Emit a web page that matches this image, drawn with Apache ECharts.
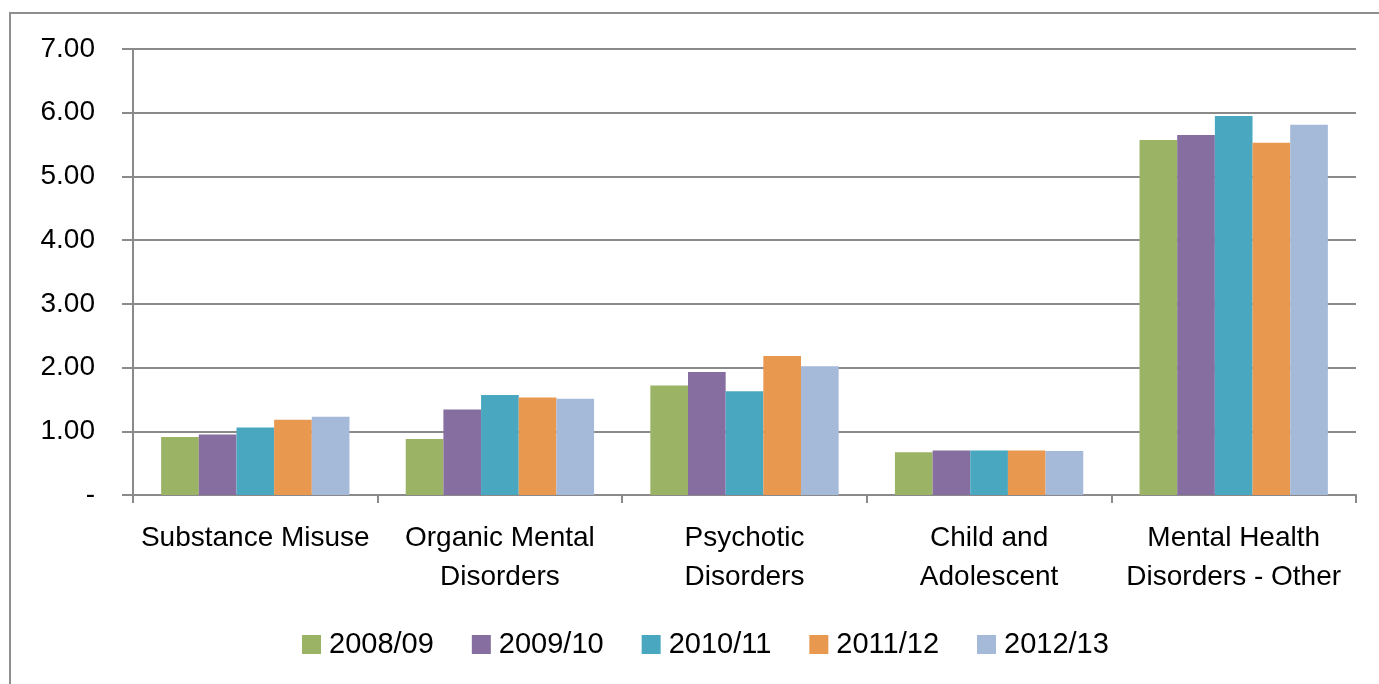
<!DOCTYPE html>
<html>
<head>
<meta charset="utf-8">
<script src="https://cdn.jsdelivr.net/npm/echarts@6/dist/echarts.min.js"></script>
<style>
  html, body { margin: 0; padding: 0; background: #fff; }
  #main { width: 1379px; height: 684px; }
</style>
</head>
<body>
<div id="main"></div>
<script>
var chartDom = document.getElementById('main');
var myChart = echarts.init(chartDom);
var option;

// categories and series
const categories = [
    'Substance Misuse',
    'Organic Mental\nDisorders',
    'Psychotic\nDisorders',
    'Child and\nAdolescent',
    'Mental Health\nDisorders - Other'
];
const years = ['2008/09', '2009/10', '2010/11', '2011/12', '2012/13'];
const v200809 = [0.91, 0.88, 1.72, 0.67, 5.57];
const v200910 = [0.95, 1.34, 1.93, 0.70, 5.65];
const v201011 = [1.06, 1.57, 1.63, 0.70, 5.95];
const v201112 = [1.18, 1.53, 2.18, 0.70, 5.53];
const v201213 = [1.23, 1.51, 2.02, 0.69, 5.81];
const yearValues = [v200809, v200910, v201011, v201112, v201213];

const colors = ['#9AB365', '#866EA0', '#49A8C0', '#E8984F', '#A5B9D8'];
const axisGray = '#8a8a8a';
const font = 'Liberation Sans';

option = {
    animation: false,
    textStyle: { fontFamily: font },
    grid: {
        left: 133,
        top: 49,
        right: 23,
        bottom: 189
    },
    legend: {
        left: 297,
        top: 625,
        itemWidth: 19,
        itemHeight: 19,
        itemGap: 38,
        icon: 'rect',
        textStyle: { fontSize: 29, color: '#000', fontFamily: font, padding: [0, 0, 0, 3] },
        data: years
    },
    xAxis: {
        type: 'category',
        data: categories,
        axisLine: { lineStyle: { color: axisGray, width: 2 } },
        axisTick: { show: true, length: 8, lineStyle: { color: axisGray, width: 2 } },
        axisLabel: {
            color: '#000',
            fontSize: 28,
            lineHeight: 39,
            margin: 24,
            interval: 0
        }
    },
    yAxis: {
        type: 'value',
        min: 0,
        max: 7,
        interval: 1,
        axisLine: { show: true, lineStyle: { color: axisGray, width: 2 } },
        axisTick: { show: true, length: 11, lineStyle: { color: axisGray, width: 2 } },
        splitLine: { lineStyle: { color: axisGray, width: 2 } },
        axisLabel: {
            color: '#000',
            fontSize: 28,
            margin: 38,
            formatter: function (n) {
                return n === 0 ? '-' : n.toFixed(2);
            }
        }
    },
    series: years.map(function (y, i) {
        return {
            name: y,
            type: 'bar',
            data: yearValues[i],
            barGap: '0%',
            barCategoryGap: '23%',
            itemStyle: { color: colors[i] }
        };
    }),
    graphic: {
        elements: [
            {
                type: 'rect',
                shape: { x: 10, y: 13, width: 1420, height: 720 },
                style: { fill: 'none', stroke: '#8f8f8f', lineWidth: 2 },
                silent: true
            }
        ]
    }
};

myChart.setOption(option);
</script>
</body>
</html>
